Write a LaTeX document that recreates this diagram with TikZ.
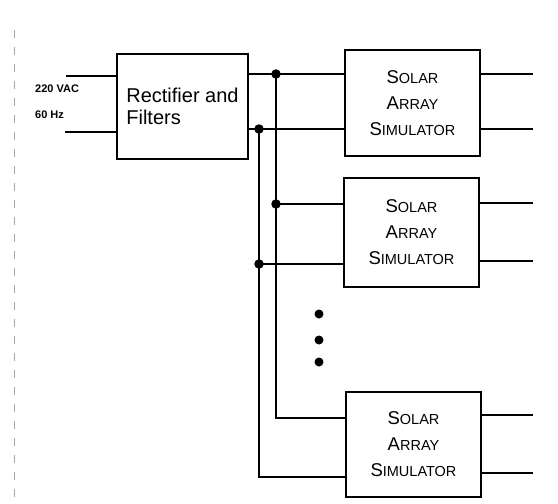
\documentclass[tikz,border=0pt]{standalone}
\usepackage{fontspec}
\newfontfamily\arialf{Liberation Sans}
\newcommand\mysc[2]{{\fontsize{18.5}{18.5}\selectfont #1}{\fontsize{14.5}{14.5}\selectfont #2}}
\begin{document}
\begin{tikzpicture}[x=1pt,y=-1pt,
  wire/.style={line width=1.3pt,line cap=rect},
  boxn/.style={draw,line width=1.3pt,inner sep=0pt},
  sasbox/.style={boxn,minimum width=135pt,minimum height=106pt,align=center,
     font=\arialf\fontsize{14.5}{26}\selectfont},
  lbl/.style={font=\arialf\bfseries\fontsize{11}{11}\selectfont,inner sep=0pt,anchor=west},
  junc/.style={circle,fill=black,inner sep=0pt,minimum size=9.5pt},
  edot/.style={circle,fill=black,inner sep=0pt,minimum size=9pt}]
\useasboundingbox (0,0) rectangle (558,504);
% scan border
\draw[gray!70,line width=0.8pt,dash pattern=on 8pt off 9pt] (14,30) -- (14,504);
% blocks
\node[boxn,minimum width=131pt,minimum height=105pt,align=left,
  font=\arialf\fontsize{20}{22}\selectfont] (rect) at (182.5,106.5) {Rectifier and\\Filters};
\node[sasbox] (sas1) at (412.5,103) {\mysc{S}{OLAR}\\\mysc{A}{RRAY}\\\mysc{S}{IMULATOR}};
\node[sasbox,minimum height=109pt] (sas2) at (411.5,232.5) {\mysc{S}{OLAR}\\\mysc{A}{RRAY}\\\mysc{S}{IMULATOR}};
\node[sasbox,minimum height=105pt] (sas3) at (413.5,444.5) {\mysc{S}{OLAR}\\\mysc{A}{RRAY}\\\mysc{S}{IMULATOR}};
% input
\coordinate (in1) at (67,76);
\coordinate (in2) at (66,132);
\draw[wire] (in1) -- (rect.west |- in1);
\draw[wire] (in2) -- (rect.west |- in2);
\node[lbl] (v) at (35,89) {220 VAC};
\node[lbl] (hz) at (35,115) {60 Hz};
% junctions
\coordinate (j1) at (276,74);
\coordinate (j2) at (259,129);
\coordinate (j3) at (276,204);
\coordinate (j4) at (259,264);
\coordinate (b1) at (276,418);
\coordinate (b2) at (259,477);
\draw[wire] (rect.east |- j1) -- (j1) -- (sas1.west |- j1);
\draw[wire] (rect.east |- j2) -- (j2) -- (sas1.west |- j2);
\draw[wire] (j1) -- (b1) -- (sas3.west |- b1);
\draw[wire] (j2) -- (b2) -- (sas3.west |- b2);
\draw[wire] (j3) -- (sas2.west |- j3);
\draw[wire] (j4) -- (sas2.west |- j4);
\node[junc] (d1) at (j1) {};
\node[junc] (d2) at (j2) {};
\node[junc] (d3) at (j3) {};
\node[junc] (d4) at (j4) {};
% outputs
\coordinate (o1) at (532,74);
\coordinate (o2) at (532,129);
\coordinate (o3) at (532,203);
\coordinate (o4) at (532,261);
\coordinate (o5) at (532,415);
\coordinate (o6) at (532,473);
\draw[wire] (sas1.east |- o1) -- (o1);
\draw[wire] (sas1.east |- o2) -- (o2);
\draw[wire] (sas2.east |- o3) -- (o3);
\draw[wire] (sas2.east |- o4) -- (o4);
\draw[wire] (sas3.east |- o5) -- (o5);
\draw[wire] (sas3.east |- o6) -- (o6);
% ellipsis
\node[edot] (e1) at (319,314) {};
\node[edot] (e2) at (319,340) {};
\node[edot] (e3) at (319,362) {};
\end{tikzpicture}
\end{document}
